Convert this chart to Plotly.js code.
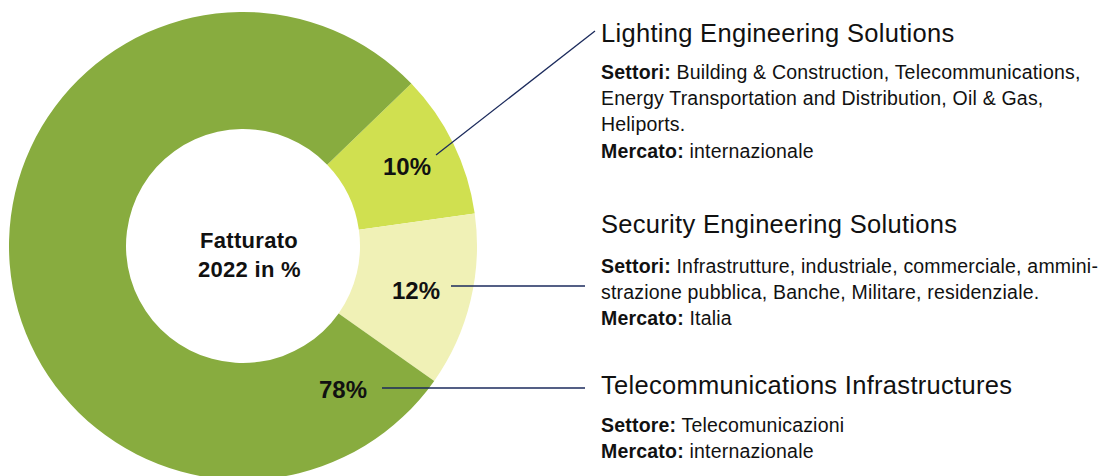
<!DOCTYPE html>
<html>
<head>
<meta charset="utf-8">
<script src="https://cdn.plot.ly/plotly-3.0.1.min.js"></script>
<style>
html,body{margin:0;padding:0;background:#fff;overflow:hidden;width:1110px;height:476px;}
#chart{width:1110px;height:492px;}
</style>
</head>
<body>
<div id="chart"></div>
<script>
// ---- data ----
const segments = ['Lighting Engineering Solutions', 'Security Engineering Solutions', 'Telecommunications Infrastructures'];
const shares = [10, 12, 78];
const sliceColors = ['#D0E050', '#F0F1B6', '#88AC3F'];
const centerLines = ['Fatturato', '2022 in %'];
const detailLines = [
  ['<b>Settori:</b> Building & Construction, Telecommunications,', 'Energy Transportation and Distribution, Oil & Gas,', 'Heliports.', '<b>Mercato:</b> internazionale'],
  ['<b>Settori:</b> Infrastrutture, industriale, commerciale, ammini-', 'strazione pubblica, Banche, Militare, residenziale.', '<b>Mercato:</b> Italia'],
  ['<b>Settore:</b> Telecomunicazioni', '<b>Mercato:</b> internazionale']
];

// ---- layout helpers (pixel -> paper) ----
const W = 1110, H = 492;
const px = x => x / W;
const py = y => 1 - y / H;
const FONT = 'Liberation Sans, Arial, sans-serif';
const INK = '#111111';
const LINE = '#1B2A5C';
const track = (t, s) => '<span style="letter-spacing:' + s + 'px">' + t + '</span>';

const trace = {
  type: 'pie',
  labels: segments,
  values: shares,
  hole: 0.5,
  sort: false,
  direction: 'clockwise',
  rotation: 46,
  marker: {colors: sliceColors, line: {width: 0}},
  textinfo: 'none',
  hoverinfo: 'label+percent',
  showlegend: false,
  domain: {x: [px(9), px(477)], y: [py(480), py(12)]}
};

const annotations = [];
const shapes = [];

// center text
const centerY = [240, 269];
centerLines.forEach((t, i) => annotations.push({
  x: px(249), y: py(centerY[i]), xref: 'paper', yref: 'paper', xanchor: 'center', yanchor: 'middle',
  text: track('<b>' + t + '</b>', 0.3), showarrow: false, font: {family: FONT, size: 22, color: INK}
}));

// percent labels
const pctPos = [[407, 166], [416, 290], [343, 389]];
shares.forEach((v, i) => annotations.push({
  x: px(pctPos[i][0]), y: py(pctPos[i][1]), xref: 'paper', yref: 'paper', xanchor: 'center', yanchor: 'middle',
  text: '<b>' + v + '%</b>', showarrow: false, font: {family: FONT, size: 24, color: INK}
}));

// leader lines
const leaders = [[436, 155, 595, 31], [451, 286, 585, 286], [382, 388, 585, 388]];
leaders.forEach(l => shapes.push({
  type: 'line', xref: 'paper', yref: 'paper', x0: px(l[0]), y0: py(l[1]), x1: px(l[2]), y1: py(l[3]),
  line: {color: LINE, width: 1.3}
}));

// right-hand texts
const titleY = [33, 224, 385];
const detailY = [[72, 98, 124, 151], [266, 292, 318], [425, 451]];
segments.forEach((s, i) => {
  annotations.push({
    x: px(599), y: py(titleY[i]), xref: 'paper', yref: 'paper', xanchor: 'left', yanchor: 'middle', align: 'left',
    text: track(s, 0.3), showarrow: false, font: {family: FONT, size: 25.5, color: INK}
  });
  detailLines[i].forEach((t, j) => annotations.push({
    x: px(599), y: py(detailY[i][j]), xref: 'paper', yref: 'paper', xanchor: 'left', yanchor: 'middle', align: 'left',
    text: track(t, 0.2), showarrow: false, font: {family: FONT, size: 19.5, color: INK}
  }));
});

const layout = {
  width: W, height: H,
  margin: {l: 0, r: 0, t: 0, b: 0},
  paper_bgcolor: '#ffffff',
  plot_bgcolor: '#ffffff',
  annotations: annotations,
  shapes: shapes
};

Plotly.newPlot('chart', [trace], layout, {displayModeBar: false, staticPlot: true});
</script>
</body>
</html>
